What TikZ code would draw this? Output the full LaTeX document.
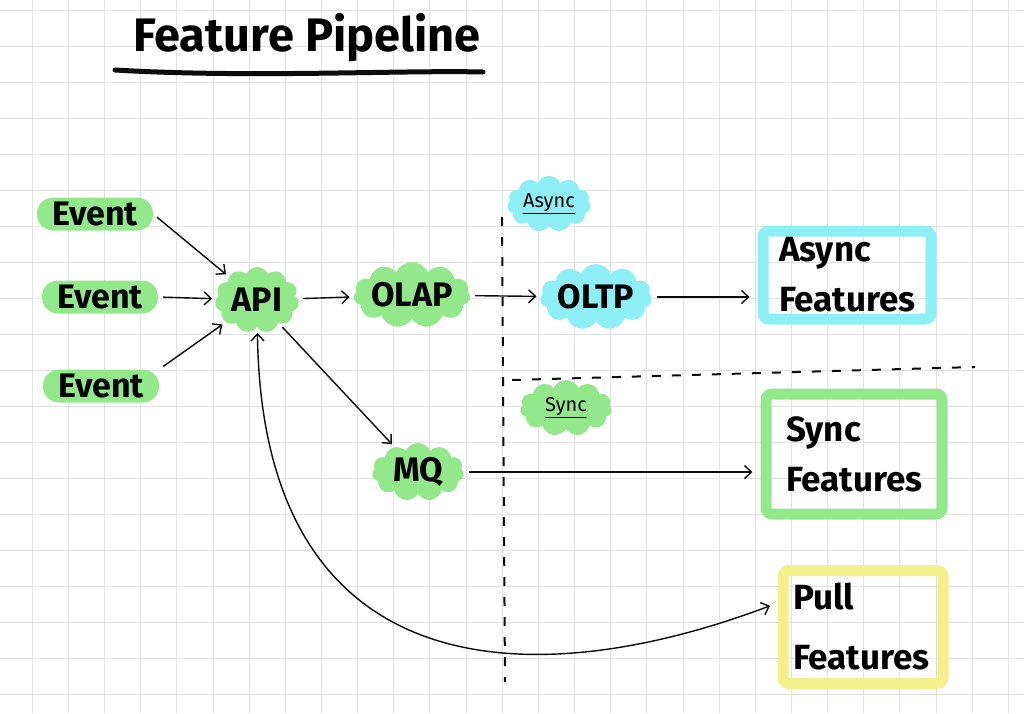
\documentclass[tikz,border=0pt]{standalone}
\usepackage{fontspec}
\setmainfont{Fira Sans}
\usetikzlibrary{arrows.meta, shapes.symbols}
\definecolor{gridline}{HTML}{E2E2E2}
\definecolor{hlgreen}{HTML}{94E88C}
\definecolor{hlcyan}{HTML}{8EEFF6}
\definecolor{hlyellow}{HTML}{F5F08E}
\definecolor{ink}{HTML}{0B0B0B}

\begin{document}
\begin{tikzpicture}[x=1pt, y=-1pt,
    >={Straight Barb[length=7pt, width=13pt]},
    font=\fontsize{34}{40}\selectfont\bfseries,
    pill/.style={fill=hlgreen, rounded corners=16pt, minimum width=116pt, minimum height=33pt, inner sep=0pt},
    blob/.style={cloud, cloud puffs=11, cloud puff arc=130, cloud ignores aspect, fill=#1, draw=none,
      minimum width=104pt, minimum height=66pt, inner sep=0pt},
    tag/.style={blob=#1, minimum width=84pt, minimum height=56pt, font=\fontsize{20}{24}\selectfont},
    featbox/.style={draw=#1, line width=11pt, rounded corners=6pt, align=left,
      font=\fontsize{35}{50}\selectfont\bfseries},
    flow/.style={->, ink, line width=1.4pt, shorten <=5pt, shorten >=4pt},
    divider/.style={ink, line width=2pt, dash pattern=on 9pt off 11pt}]
  \useasboundingbox[fill=white] (0,0) rectangle (1024,713);
  \foreach \i in {0,...,27}
    \draw[gridline, line width=1pt] (32.3+36.15*\i,0) -- (32.3+36.15*\i,713);
  \foreach \j in {0,...,19}
    \draw[gridline, line width=1pt] (0,10+36.05*\j) -- (1024,10+36.05*\j);

  \node (title) at (307,38) {\fontsize{47}{52}\selectfont Feature Pipeline};
  \draw[ink, line width=5pt, line cap=round] (115,70) .. controls (250,78) and (400,70) .. (483,72);

  \node[pill] (ev1) at (95,214) {Event};
  \node[pill] (ev2) at (100,297) {Event};
  \node[pill] (ev3) at (101,386) {Event};
  \node[blob=hlgreen, minimum width=84pt] (api) at (257,300) {API};
  \node[blob=hlgreen] (olap) at (412,295) {OLAP};
  \node[blob=hlcyan, minimum width=112pt] (oltp) at (596,297) {OLTP};
  \node[blob=hlgreen, minimum width=92pt, minimum height=58pt] (mq) at (418,472) {MQ};
  \node[tag=hlcyan] (asynctag) at (549,204) {\underline{Async}};
  \node[tag=hlgreen, minimum width=92pt] (synctag) at (566,408) {\underline{Sync}};

  \node[featbox=hlcyan, text width=136pt, inner xsep=16pt, minimum height=88pt] (asyncf) at (847,275) {Async\\Features};
  \node[featbox=hlgreen, text width=136pt, inner xsep=20pt, minimum height=120pt] (syncf) at (854,454) {Sync\\Features};
  \node[featbox=hlyellow, text width=140pt, inner xsep=10pt, minimum height=113pt] (pullf) at (863,627) {Pull\\[10pt]Features};

  \draw[divider] (502,217) -- (505,682);
  \draw[divider] (512,380) -- (975,367);

  \draw[flow] (ev1.east) -- (api);
  \draw[flow] (ev2.east) -- (api);
  \draw[flow] (ev3.north east) -- (api);
  \draw[flow] (api) -- (olap);
  \draw[flow] (olap) -- (oltp);
  \draw[flow, shorten >=8pt] (oltp.east) -- (oltp.east -| asyncf.west);
  \draw[flow] (api) -- (mq);
  \draw[flow, shorten >=8pt] (mq.east) -- (mq.east -| syncf.west);
  \draw[flow, <->, shorten >=8pt] (api) .. controls (262,680) and (520,700) .. ([yshift=24pt]pullf.west);
\end{tikzpicture}
\end{document}
